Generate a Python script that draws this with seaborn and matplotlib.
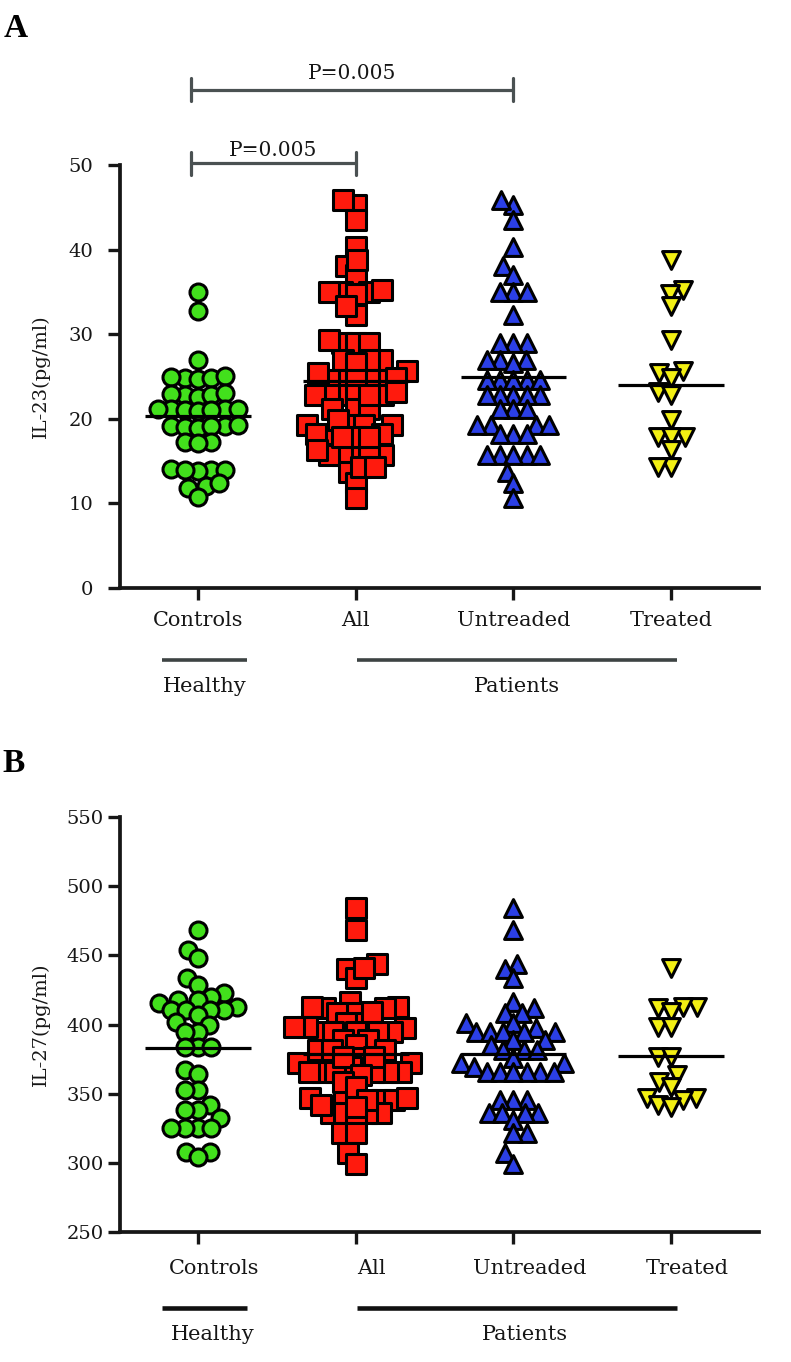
import numpy as np
import pandas as pd
import seaborn as sns
import matplotlib
matplotlib.use("Agg")
import matplotlib.pyplot as plt
from matplotlib.transforms import ScaledTranslation

# categories
groups = ["Controls", "All", "Untreaded", "Treated"]
group_names = ["Healthy", "Patients"]

# panel A: IL-23 (pg/ml)
ctrl_a = [35.0, 32.7, 27.0,
          24.8, 24.9, 24.7, 24.8, 25.0,
          22.8, 22.9, 22.6, 22.8, 23.0,
          21.1, 21.0, 21.2, 21.1, 20.9, 21.2, 21.0,
          19.1, 19.2, 19.0, 19.3, 18.9, 19.1,
          17.2, 17.3, 17.1,
          13.9, 14.0, 13.8, 14.1, 13.9,
          12.0, 12.4, 11.8, 10.8]
untr_a = [45.3, 45.9, 43.5, 40.3, 38.0, 37.0,
          35.0, 35.0, 35.0, 32.3,
          29.0, 29.0, 29.0,
          27.0, 27.0, 27.0, 26.6,
          24.6, 24.6, 24.6, 24.6, 24.6,
          22.8, 22.8, 22.8, 22.8, 22.8,
          21.2, 21.2, 21.2,
          19.3, 19.3, 19.3, 19.3,
          18.2, 18.2, 18.2,
          15.7, 15.7, 15.7, 15.7, 15.7,
          13.7, 12.4, 10.6]
treat_a = [38.8, 35.2, 34.8, 33.3, 29.3, 25.6, 25.4, 24.8, 23.2,
           22.8, 19.9, 17.9, 17.9, 17.9, 16.3, 14.3, 14.3]
all_a = [45.3, 45.9, 43.5, 40.3, 38.0, 37.0,
         35.0, 35.0, 35.0, 32.3,
         29.0, 29.0, 29.0,
         27.0, 27.0, 27.0, 26.6,
         24.6, 24.6, 24.6, 24.6, 24.6,
         22.8, 22.8, 22.8, 22.8, 22.8,
         21.2, 21.2, 21.2,
         19.3, 19.3, 19.3, 19.3,
         18.2, 18.2, 18.2,
         15.7, 15.7, 15.7, 15.7, 15.7,
         13.7, 12.4, 10.6,
         38.8, 35.2, 34.8, 33.3, 29.3, 25.6, 25.4, 24.8, 23.2,
         22.8, 19.9, 17.9, 17.9, 17.9, 16.3, 14.3, 14.3]
mean_a = [20.3, 24.5, 24.9, 24.0]
pvals_a = ["P=0.005", "P=0.005"]
pairs_a = [(0, 2), (0, 1)]

# panel B: IL-27 (pg/ml)
ctrl_b = [468.3, 453.8, 447.8, 433.4, 428.5,
          422.5, 420.0, 418.0, 417.7, 415.5, 413.0,
          410.4, 410.4, 410.4, 410.4, 406.8, 402.0,
          400.0, 394.8, 394.8,
          384.0, 384.0, 384.0,
          367.0, 364.6,
          352.6, 352.6,
          341.8, 338.1, 338.1, 332.1,
          324.9, 324.9, 324.9, 324.9,
          308.0, 308.0, 304.4]
untr_b = [484.0, 468.3, 444.1, 440.5, 433.4,
          416.6, 411.7, 408.1, 408.1,
          401.0, 401.0, 397.5,
          394.8, 394.8, 394.8, 394.8, 394.8, 389.0, 388.8, 385.5,
          381.5, 381.5, 381.5, 375.5,
          371.9, 371.9, 369.0,
          366.0, 366.0, 366.0, 366.0, 366.0, 366.0,
          345.4, 345.4, 345.4,
          335.8, 335.8, 335.8, 335.8, 331.0,
          321.3, 321.3, 306.8, 299.5]
treat_b = [440.6, 412.8, 412.8, 411.7, 409.2, 398.3, 398.3,
           376.6, 376.6, 363.4, 358.6, 355.0,
           347.0, 347.0, 345.4, 341.8, 340.6]
all_b = [484.0, 468.3, 444.1, 440.5, 433.4,
         416.6, 411.7, 408.1, 408.1,
         401.0, 401.0, 397.5,
         394.8, 394.8, 394.8, 394.8, 394.8, 389.0, 388.8, 385.5,
         381.5, 381.5, 381.5, 375.5,
         371.9, 371.9, 369.0,
         366.0, 366.0, 366.0, 366.0, 366.0, 366.0,
         345.4, 345.4, 345.4,
         335.8, 335.8, 335.8, 335.8, 331.0,
         321.3, 321.3, 306.8, 299.5,
         440.6, 412.8, 412.8, 411.7, 409.2, 398.3, 398.3,
         376.6, 376.6, 363.4, 358.6, 355.0,
         347.0, 347.0, 345.4, 341.8, 340.6]
mean_b = [383.0, 378.5, 379.0, 377.0]

markers = ["o", "s", "^", "v"]
colors = ["#42e01c", "#ff1a0d", "#2b3fe6", "#f2ef13"]
# final marker areas (pt^2); the swarm itself is laid out with smaller dots
# so the markers overlap the way they do in the original figure
marker_area = [150, 190, 165, 165]
LAYOUT_SIZE = 7.6
LAYOUT_LW = 1.6
EDGE_LW = 2.2
INK = "#161616"


def long_form(cols):
    return pd.DataFrame({
        "group": np.repeat(groups, [len(c) for c in cols]),
        "value": np.concatenate(cols),
    })


def draw_panel(ax, cols, means, ylim, yticks, ylabel, ypad, xpad, shift_px,
               line_color, line_lw, line_y, text_y):
    df = long_form(cols)
    colls = []
    for name, marker, color in zip(groups, markers, colors):
        n0 = len(ax.collections)
        sns.swarmplot(data=df[df.group == name], x="group", y="value",
                      order=groups, marker=marker, color=color,
                      size=LAYOUT_SIZE, linewidth=LAYOUT_LW,
                      edgecolor="black", warn_thresh=1, ax=ax, zorder=3)
        new = [c for c in ax.collections[n0:] if len(c.get_offsets())]
        colls.append(new[0])

    xs = np.arange(len(groups))
    ax.hlines(means, xs - 0.335, xs + 0.335, color="black", lw=2.3,
              zorder=5)

    ax.set_xlim(-0.495, 3.557)
    ax.set_ylim(*ylim)
    ax.set_yticks(yticks)
    ax.set_xlabel("")
    ax.set_ylabel(ylabel, fontsize=14, color=INK)
    ax.yaxis.set_label_coords(-0.11, 0.5)
    sns.despine(ax=ax)
    for sp in ["left", "bottom"]:
        ax.spines[sp].set_linewidth(2.7)
        ax.spines[sp].set_color(INK)
    ax.tick_params(axis="both", direction="out", length=8.5, width=2.4,
                   color=INK, labelcolor=INK)
    ax.tick_params(axis="y", labelsize=14, pad=ypad)
    ax.tick_params(axis="x", labelsize=15, pad=xpad)
    if shift_px:
        off = ScaledTranslation(shift_px / 100, 0, ax.figure.dpi_scale_trans)
        for lab in ax.get_xticklabels():
            lab.set_transform(lab.get_transform() + off)

    # Healthy / Patients grouping bars under the category labels
    trans = ax.get_xaxis_transform()
    spans = [(-0.23, 0.31), (1.01, 3.04)]
    for name, (x0, x1) in zip(group_names, spans):
        ax.plot([x0, x1], [line_y, line_y], transform=trans, color=line_color,
                lw=line_lw, clip_on=False, solid_capstyle="butt")
        ax.text((x0 + x1) / 2 + shift_px / 157.5 * 0.5, text_y, name,
                transform=trans, ha="center", va="center", fontsize=15,
                color=INK)
    return colls


sns.set_theme(style="ticks")
plt.rcParams["font.family"] = ["DejaVu Serif", "DejaVu Sans"]

fig = plt.figure(figsize=(7.91, 13.62), dpi=100)
ax_a = fig.add_axes([0.1517, 0.5683, 0.8078, 0.3106])
ax_b = fig.add_axes([0.1517, 0.0954, 0.8078, 0.3047])

colls_a = draw_panel(ax_a, [ctrl_a, all_a, untr_a, treat_a], mean_a,
                     (0, 50), np.arange(0, 51, 10), "IL-23(pg/ml)",
                     ypad=10.5, xpad=8, shift_px=0, line_color="#3d4343",
                     line_lw=2.6, line_y=-0.170, text_y=-0.232)
colls_b = draw_panel(ax_b, [ctrl_b, all_b, untr_b, treat_b], mean_b,
                     (250, 550), np.arange(250, 551, 50), "IL-27(pg/ml)",
                     ypad=3.5, xpad=11, shift_px=16, line_color="#111111",
                     line_lw=3.3, line_y=-0.183, text_y=-0.248)

# significance brackets above panel A
for (g0, g1), txt, yb, lift in zip(pairs_a, pvals_a, [58.9, 50.2], [8, 5.5]):
    x0 = g0 - 0.045
    ax_a.plot([x0, g1], [yb, yb], color="#4a5152", lw=2.3, clip_on=False)
    for xe in (x0, g1):
        ax_a.plot([xe, xe], [yb - 1.35, yb + 1.35], color="#4a5152", lw=2.3,
                  clip_on=False)
    ax_a.annotate(txt, xy=((x0 + g1) / 2, yb), xytext=(0, lift),
                  textcoords="offset points", ha="center", va="baseline",
                  fontsize=14.5, color=INK, annotation_clip=False)

fig.text(4 / 791, 1 - 37 / 1362, "A", family="Liberation Serif",
         weight="bold", fontsize=24, va="baseline", color="black")
fig.text(2 / 791, 1 - 772 / 1362, "B", family="Liberation Serif",
         weight="bold", fontsize=24, va="baseline", color="black")

# run the beeswarm layout once with the small dots, then freeze it and
# switch to the big overlapping markers
fig.canvas.draw()
for colls in (colls_a, colls_b):
    for coll, area in zip(colls, marker_area):
        coll.__dict__.pop("draw", None)
        coll.set_sizes([area])
        coll.set_linewidths([EDGE_LW])

fig.savefig("out.png", dpi=100)
